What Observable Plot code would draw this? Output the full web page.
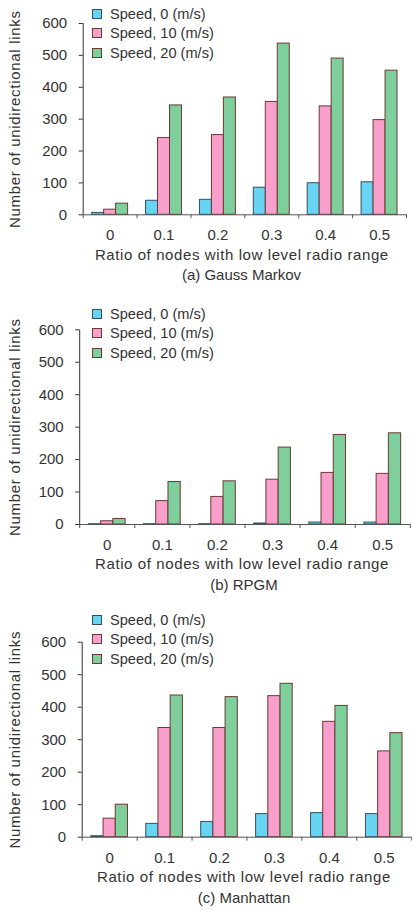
<!DOCTYPE html>
<html>
<head>
<meta charset="utf-8">
<script src="https://cdn.jsdelivr.net/npm/d3@7"></script>
<script src="https://cdn.jsdelivr.net/npm/@observablehq/plot@0.6"></script>
<style>
  body { margin: 0; background: #fff; font-family: "Liberation Sans", Arial, sans-serif; color: #333; }
  #figure { position: relative; width: 412px; height: 910px; overflow: hidden; }
  .panel { position: absolute; left: 0; width: 412px; }
  .panel svg { position: absolute; left: 0; top: 0; overflow: visible; }
  .panel svg text { font-size: 15px; }
  .legend { position: absolute; font-size: 14.6px; color: #333; }
  .legend .row { position: absolute; left: 0; white-space: nowrap; height: 18px; line-height: 18px; transform: translateY(-9px); }
  .legend .sw { position: absolute; left: 0; top: 4px; width: 8px; height: 8px; border: 1px solid; }
  .legend .lbl { position: absolute; left: 18px; top: 0; }
  .caption { position: absolute; font-size: 15px; color: #333; white-space: nowrap; transform: translate(-50%, -50%); line-height: 18px; }
</style>
</head>
<body>
<div id="figure"></div>
<script>
// Ratio of nodes with low level radio range (x categories)
const ratios = ["0", "0.1", "0.2", "0.3", "0.4", "0.5"];
// Node speed series
const speeds = ["Speed, 0 (m/s)", "Speed, 10 (m/s)", "Speed, 20 (m/s)"];
const yTicks = [0, 100, 200, 300, 400, 500, 600];
const yLabel = "Number of unidirectional links";
const xLabel = "Ratio of nodes with low level radio range";

// (a) Gauss Markov
const gaussSpeed0 = [6, 44, 47, 85, 99, 102];
const gaussSpeed10 = [16, 241, 250, 354, 340, 297];
const gaussSpeed20 = [35, 343, 368, 537, 490, 452];
// (b) RPGM
const rpgmSpeed0 = [1, 1, 1, 3, 6, 6];
const rpgmSpeed10 = [10, 72, 85, 138, 159, 156];
const rpgmSpeed20 = [17, 131, 133, 237, 276, 281];
// (c) Manhattan
const manhattanSpeed0 = [3, 41, 47, 71, 74, 71];
const manhattanSpeed10 = [57, 336, 336, 434, 355, 264];
const manhattanSpeed20 = [100, 436, 431, 472, 404, 320];

const fills = ["#66d4f2", "#f99fcb", "#7ecf9b"];
const strokes = ["#34505e", "#6b3a35", "#6b3a35"];

const panels = [
  {caption: "(a) Gauss Markov", series: [gaussSpeed0, gaussSpeed10, gaussSpeed20],
   top: 0, height: 300, marginTop: 23, zero: 214.3, marginLeft: 82.7, marginRight: 6,
   legendTop: 14, captionY: 275, captionX: 241.5},
  {caption: "(b) RPGM", series: [rpgmSpeed0, rpgmSpeed10, rpgmSpeed20],
   top: 300, height: 300, marginTop: 29.3, zero: 224, marginLeft: 79.2, marginRight: 2.2,
   legendTop: 14, captionY: 285, captionX: 244},
  {caption: "(c) Manhattan", series: [manhattanSpeed0, manhattanSpeed10, manhattanSpeed20],
   top: 600, height: 310, marginTop: 41.7, zero: 236.7, marginLeft: 81.7, marginRight: 0.8,
   legendTop: 20, captionY: 297.7, captionX: 244}
];

const figure = document.getElementById("figure");

for (const p of panels) {
  const width = 412;
  const marginBottom = p.height - p.zero;
  const innerW = width - p.marginLeft - p.marginRight;
  const step = innerW / 6;            // band step (padding inner 1/3, outer 1/6)
  const barW = step * 2 / 9;          // one third of the band

  // one row per (ratio, speed)
  const rows = p.series.map((vals, s) => ratios.map((r, i) => ({ratio: r, speed: speeds[s], value: vals[i]})));

  const chart = Plot.plot({
    width,
    height: p.height,
    marginTop: p.marginTop,
    marginBottom,
    marginLeft: p.marginLeft,
    marginRight: p.marginRight,
    style: {fontFamily: "'Liberation Sans', Arial, sans-serif", fontSize: "15px", color: "#333", background: "transparent", overflow: "visible"},
    x: {domain: ratios, type: "band", paddingInner: 1 / 3, paddingOuter: 1 / 6, round: false,
        tickSize: 0, tickPadding: 15, label: null},
    y: {domain: [0, 600], ticks: yTicks, tickSize: 4, tickPadding: 12, line: true, label: null},
    marks: [
      ...rows.map((data, s) => Plot.barY(data, {
        x: "ratio", y: "value",
        fill: fills[s], stroke: strokes[s], strokeWidth: 1,
        insetLeft: s * barW, insetRight: (2 - s) * barW
      })),
      Plot.ruleY([0], {stroke: "#555"}),
      // category boundary ticks below the baseline
      Plot.ruleX(ratios, {x: d => d, y1: 0, y2: 0, insetTop: 4, dx: -step / 2, stroke: "#555"}),
      Plot.ruleX(ratios.slice(-1), {x: d => d, y1: 0, y2: 0, insetTop: 4, dx: step / 2, stroke: "#555"}),
      Plot.text([yLabel], {frameAnchor: "left", textAnchor: "middle", lineAnchor: "middle", rotate: -90,
        dx: -(p.marginLeft - 15), fill: "#333", fontSize: 15}),
      Plot.text([xLabel], {frameAnchor: "bottom", textAnchor: "middle", lineAnchor: "middle",
        dy: 40, dx: -3, fill: "#333", fontSize: 15})
    ]
  });

  // axis titles are set with a little extra tracking
  d3.select(chart).selectAll("text")
    .filter(function () { return this.textContent === xLabel; })
    .attr("letter-spacing", "0.6px");
  d3.select(chart).selectAll("text")
    .filter(function () { return this.textContent === yLabel; })
    .attr("letter-spacing", "0.7px");

  const div = document.createElement("div");
  div.className = "panel";
  div.style.top = p.top + "px";
  div.style.height = p.height + "px";
  div.appendChild(chart);

  const legend = document.createElement("div");
  legend.className = "legend";
  legend.style.left = "92px";
  legend.style.top = p.legendTop + "px";
  speeds.forEach((name, s) => {
    const row = document.createElement("div");
    row.className = "row";
    row.style.top = (s * 19.35) + "px";
    const sw = document.createElement("span");
    sw.className = "sw";
    sw.style.background = fills[s];
    sw.style.borderColor = strokes[s];
    const lbl = document.createElement("span");
    lbl.className = "lbl";
    lbl.textContent = name;
    row.appendChild(sw);
    row.appendChild(lbl);
    legend.appendChild(row);
  });
  div.appendChild(legend);

  const cap = document.createElement("div");
  cap.className = "caption";
  cap.style.left = p.captionX + "px";
  cap.style.top = p.captionY + "px";
  cap.textContent = p.caption;
  div.appendChild(cap);

  figure.appendChild(div);
}
</script>
</body>
</html>
